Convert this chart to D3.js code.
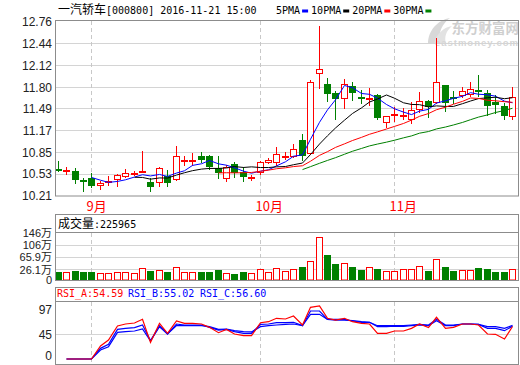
<!DOCTYPE html>
<html><head><meta charset="utf-8">
<script src="https://cdn.jsdelivr.net/npm/d3@7"></script>
<style>
body{margin:0;background:#fff;}
svg{display:block;}
.mono{font-family:"DejaVu Sans Mono","Liberation Mono",monospace;font-size:10px;}
.cjk{font-family:"Noto Sans CJK SC",sans-serif;font-size:12px;}
.ax text{font-family:"Liberation Sans",Arial,sans-serif;font-size:12px;fill:#222;}
.axv text{font-family:"Liberation Sans","Noto Sans CJK SC",sans-serif;font-size:11px;fill:#222;}
</style></head><body>
<svg id="c" width="520" height="365"></svg>
<script>
// ---------------- data ----------------
const opens  = [10.61,10.58,10.58,10.445,10.475,10.368,10.42,10.455,10.50,10.53,10.565,10.416,10.416,10.504,10.455,10.73,10.72,10.80,10.79,10.615,10.47,10.675,10.565,10.475,10.56,10.70,10.71,10.78,10.80,11.03,10.835,12.014,11.845,11.72,11.64,11.82,11.655,11.63,11.69,11.29,11.40,11.39,11.337,11.48,11.605,11.585,11.825,11.65,11.69,11.70,11.765,11.713,11.585,11.527,11.38];
const highs  = [10.72,10.64,10.62,10.48,10.55,10.426,10.50,10.535,10.606,10.57,10.87,10.48,10.64,10.59,10.947,10.79,10.845,10.855,10.81,10.79,10.66,10.71,10.64,10.51,10.715,10.76,10.93,10.85,10.97,11.11,11.905,12.70,11.93,11.745,11.92,11.87,11.76,11.79,11.70,11.38,11.51,11.49,11.585,11.736,11.615,12.52,11.83,11.75,11.81,11.875,11.98,11.76,11.69,11.57,11.81];
const lows   = [10.57,10.53,10.405,10.29,10.34,10.31,10.37,10.355,10.49,10.52,10.56,10.29,10.35,10.35,10.45,10.665,10.66,10.70,10.60,10.47,10.435,10.49,10.435,10.44,10.53,10.69,10.67,10.75,10.785,10.74,10.83,11.786,11.605,11.335,11.494,11.615,11.57,11.54,11.34,11.22,11.30,11.33,11.275,11.44,11.36,11.575,11.445,11.575,11.655,11.665,11.665,11.395,11.43,11.34,11.33];
const closes = [10.60,10.59,10.445,10.42,10.35,10.40,10.43,10.514,10.543,10.55,10.57,10.34,10.62,10.40,10.797,10.74,10.73,10.74,10.64,10.55,10.64,10.544,10.49,10.49,10.70,10.74,10.83,10.79,10.895,10.79,11.88,12.064,11.70,11.63,11.845,11.72,11.645,11.64,11.35,11.38,11.41,11.40,11.46,11.60,11.51,11.87,11.567,11.64,11.75,11.775,11.755,11.527,11.54,11.385,11.655];
// volume in 万手
const volumes = [20.2,20.2,22.7,20.2,20.2,16.3,16.3,19.5,19.5,16.3,29.3,22.7,24.4,20.2,32.6,20.2,20.2,20.2,20.2,24.4,17.8,15.4,20.2,17.8,26.1,19.5,29.3,22.0,26.1,33.6,53.0,129.8,72.4,43.3,45.5,33.6,24.4,32.6,27.1,22.0,22.0,26.1,26.1,36.8,22.0,58.5,33.6,22.0,24.4,24.4,30.3,27.1,20.2,20.2,26.1];
const ma5  = [null,null,null,null,10.481,10.441,10.409,10.423,10.447,10.487,10.521,10.503,10.525,10.496,10.545,10.579,10.657,10.681,10.729,10.680,10.660,10.623,10.573,10.543,10.573,10.593,10.650,10.710,10.791,10.811,11.039,11.287,11.469,11.616,11.825,11.793,11.708,11.696,11.640,11.547,11.485,11.436,11.400,11.450,11.476,11.568,11.601,11.637,11.667,11.720,11.697,11.689,11.669,11.596,11.572];
const ma10 = [null,null,null,null,null,null,null,null,null,10.484,10.481,10.456,10.474,10.472,10.516,10.550,10.580,10.603,10.613,10.613,10.620,10.640,10.627,10.636,10.626,10.626,10.636,10.641,10.667,10.692,10.816,10.969,11.090,11.204,11.318,11.416,11.498,11.583,11.628,11.686,11.639,11.572,11.548,11.545,11.512,11.527,11.519,11.519,11.559,11.598,11.633,11.645,11.653,11.632,11.646];
const ma20 = [null,null,null,null,null,null,null,null,null,null,null,null,null,null,null,null,null,null,null,10.548,10.550,10.548,10.550,10.554,10.571,10.588,10.608,10.622,10.640,10.652,10.718,10.804,10.858,10.920,10.972,11.021,11.067,11.112,11.147,11.189,11.227,11.270,11.319,11.374,11.415,11.471,11.508,11.551,11.593,11.642,11.636,11.609,11.601,11.588,11.579];
const ma30 = [null,null,null,null,null,null,null,null,null,null,null,null,null,null,null,null,null,null,null,null,null,null,null,null,null,null,null,null,null,10.596,10.639,10.688,10.730,10.770,10.820,10.864,10.905,10.942,10.969,10.997,11.025,11.060,11.088,11.128,11.152,11.190,11.218,11.248,11.285,11.325,11.363,11.395,11.430,11.460,11.492];
const rsiA = [null,0,0,0,0,21.8,31.9,55.5,58.8,60.5,66.7,28,60,43.2,63.9,60,60,58.8,53.2,44.2,49.8,42,39.2,39.2,61,62.7,68.4,67.2,72.3,57.1,86.9,89.1,68.4,65.5,68.4,62.7,60,58.8,43.2,43.2,47.1,47.1,51.5,58.8,52.7,70.1,51.5,53.2,58.8,58.8,57.1,42,41.5,33.6,54.59];
const rsiB = [null,0,0,0,0,17.9,24.6,49.8,51.5,52.7,57.1,31,56,42,58.8,57.1,57.1,57.1,53.2,48.7,49.8,45.9,43.2,43.2,58.2,58.8,61,61,61.7,56,80.7,80.7,66.7,66.7,66.7,63.9,61.7,61.7,56,56,56,56,57.1,58.2,57.1,66.7,57.1,57.1,58.8,58.8,58.2,51.5,51.5,47.6,55.02];
const rsiC = [null,0,0,0,0,15.1,20.7,44.8,45.9,47.1,50.4,30.3,54.3,42,56,56,56,56,54.3,49.8,50.4,47.6,45.9,45.5,54.3,56,57.1,58.2,58.8,56,75.1,75.1,66.7,65.5,65.5,64.4,62.7,61.7,54.3,54.3,55,55,56,57.1,56,64.4,56,56,58.8,58.8,58.2,54.3,54.3,51.5,56.60];
const priceTicks = [10.21,10.53,10.85,11.17,11.49,11.80,12.12,12.44,12.76];
const volTicks = [0,26.1,65.9,106,146];
const volTickLabels = ["0","26.1万","65.9万","106万","146万"];
const rsiTicks = [0,45,97];
const monthIdx = [4,24,40];
const monthLabels = ["9月","10月","11月"];
const maNames = ["5PMA","10PMA","20PMA","30PMA"];
const maColors = ["#0000ff","#000000","#ff0000","#008000"];
const titleCjk = "一汽轿车";
const titleAscii = "[000800] 2016-11-21 15:00";
const volLabel = "成交量";
const volValueText = ":225965";
const rsiNames = ["RSI_A:54.59","RSI_B:55.02","RSI_C:56.60"];
const rsiColors = ["#ff0000","#0000ff","#0000ff"];

// ---------------- layout ----------------
const svg = d3.select("#c");
const L = 55, R = 519;
const RED = "#ff0000", GREEN = "#008000", GRID = "#d4d4d4", BORDER = "#8c8c8c";

const idx = closes.map((_, i) => i);
const x = d3.scaleBand().domain(idx).range([54.1, 516.7]);
const cx = i => Math.floor(x(i) + x.bandwidth() / 2) + 0.5;

const y = d3.scaleLinear().domain([10.21, 12.76]).range([196, 21.5]);
const yv = d3.scaleLinear().domain([0, 26.1, 146]).range([280, 269.3, 232.3]);
const yr = d3.scaleLinear().domain([0, 100]).range([359, 299.5]);
const yrAxis = d3.scaleLinear().domain([0, 97]).range([355.7, 309.3]);

// watermark
const wm = svg.append("g");
wm.append("path").attr("d","M428,44 C428,30 438,20 450,18 C442,24 438,32 440,44 Z").attr("fill","#d8d8d8");
wm.append("path").attr("d","M434,44 C436,34 444,27 452,26 C446,31 444,37 446,44 Z").attr("fill","#e2e2e2");
wm.append("text").attr("x",519).attr("y",33).attr("text-anchor","end")
  .attr("font-family","Noto Sans CJK SC").attr("font-weight","bold").attr("font-size",13.5)
  .attr("fill","#cfcfcf").text("东方财富网");
wm.append("text").attr("x",519).attr("y",46).attr("text-anchor","end")
  .attr("font-family","Liberation Sans").attr("font-weight","bold").attr("font-size",9.5)
  .attr("letter-spacing","1").attr("fill","#d6d6d6").text("eastmoney.com");

// ---------- main panel ----------
const gMain = svg.append("g");
gMain.selectAll("line.hg").data(priceTicks.slice(1, -1)).join("line")
  .attr("x1", L).attr("x2", R)
  .attr("y1", d => Math.round(y(d)) + 0.5).attr("y2", d => Math.round(y(d)) + 0.5)
  .attr("stroke", GRID);
const vlines = (g, top, bot) => g.selectAll("line.vg").data(monthIdx).join("line")
  .attr("x1", d => cx(d)).attr("x2", d => cx(d)).attr("y1", top).attr("y2", bot)
  .attr("stroke", "#c8c8c8").attr("stroke-dasharray", "4,3");
vlines(gMain, 21, 196);

const yAxis = d3.axisLeft(y).tickValues(priceTicks).tickFormat(d3.format(".2f")).tickSize(0).tickPadding(3);
svg.append("g").attr("class","ax").attr("transform",`translate(${L},0)`).call(yAxis)
  .call(g => g.select(".domain").remove());

// candles
const gC = svg.append("g");
idx.forEach(i => {
  const up = closes[i] >= opens[i];
  const col = up ? RED : GREEN;
  const px = cx(i);
  const top = Math.round(y(Math.max(opens[i], closes[i])));
  const bot = Math.round(y(Math.min(opens[i], closes[i])));
  gC.append("line").attr("x1", px).attr("x2", px)
    .attr("y1", Math.round(y(highs[i]))).attr("y2", Math.round(y(lows[i])) + 1)
    .attr("stroke", col);
  if (up) {
    gC.append("rect").attr("x", px - 3).attr("y", top + 0.5)
      .attr("width", 6).attr("height", Math.max(bot - top, 1))
      .attr("fill", "#fff").attr("stroke", col);
  } else {
    gC.append("rect").attr("x", px - 3.5).attr("y", top)
      .attr("width", 7).attr("height", Math.max(bot - top, 2))
      .attr("fill", col);
  }
});

// moving averages
[ma5, ma10, ma20, ma30].forEach((arr, k) => {
  const line = d3.line().defined(d => d != null).x((d, i) => cx(i)).y(d => y(d));
  svg.append("path").datum(arr).attr("d", line)
    .attr("fill","none").attr("stroke", maColors[k]).attr("stroke-width", 1);
});

svg.append("rect").attr("x", L + 0.5).attr("y", 20.5).attr("width", R - L - 1).attr("height", 175.5)
  .attr("fill","none").attr("stroke", BORDER);

// title + legend
const title = svg.append("text").attr("x", 58).attr("y", 14);
title.append("tspan").attr("class","cjk").text(titleCjk);
title.append("tspan").attr("class","mono").attr("font-size", 10.5).text(titleAscii);
let lx = 276;
maNames.forEach((n, k) => {
  const t = svg.append("text").attr("class","mono").attr("font-size", 10.5).attr("x", lx).attr("y", 14).text(n);
  const w = t.node().getComputedTextLength();
  svg.append("rect").attr("x", lx + w + 2).attr("y", 9.5).attr("width", 6).attr("height", 3).attr("fill", maColors[k]);
  lx += w + 2 + 6 + 3;
});

// month labels
svg.selectAll("text.mon").data(monthIdx).join("text")
  .attr("x", d => cx(d) - 5).attr("y", 211)
  .attr("font-family","Noto Sans CJK SC").attr("font-size", 13).attr("fill", RED)
  .text((d, i) => monthLabels[i]);

// ---------- volume panel ----------
const gV = svg.append("g");
gV.selectAll("line.hg").data(volTicks.slice(1, -1)).join("line")
  .attr("x1", L).attr("x2", R)
  .attr("y1", d => Math.round(yv(d)) + 0.5).attr("y2", d => Math.round(yv(d)) + 0.5)
  .attr("stroke", GRID);
vlines(gV, 233, 280);
idx.forEach(i => {
  const up = closes[i] >= opens[i];
  const px = cx(i);
  const t = Math.round(yv(volumes[i]));
  if (up) {
    gV.append("rect").attr("x", px - 3).attr("y", t + 0.5).attr("width", 6).attr("height", 280 - t - 0.5)
      .attr("fill","#fff").attr("stroke", RED);
  } else {
    gV.append("rect").attr("x", px - 3.5).attr("y", t).attr("width", 7).attr("height", 281 - t)
      .attr("fill", GREEN);
  }
});
const vAxis = d3.axisLeft(yv).tickValues(volTicks).tickFormat((d, i) => volTickLabels[i]).tickSize(0).tickPadding(3);
svg.append("g").attr("class","axv").attr("transform",`translate(${L},0)`).call(vAxis)
  .call(g => g.select(".domain").remove())
  .call(g => g.selectAll(".tick text").attr("dy", "0.34em"));
svg.append("rect").attr("x", L + 0.5).attr("y", 214.5).attr("width", R - L - 1).attr("height", 66)
  .attr("fill","none").attr("stroke", BORDER);
svg.append("line").attr("x1", L).attr("x2", R).attr("y1", 232.5).attr("y2", 232.5).attr("stroke", BORDER);
const vt = svg.append("text").attr("x", 58).attr("y", 228);
vt.append("tspan").attr("class","cjk").text(volLabel);
vt.append("tspan").attr("class","mono").attr("font-size", 10.5).text(volValueText);

// ---------- RSI panel ----------
const gR = svg.append("g");
gR.append("line").attr("x1", L).attr("x2", R).attr("y1", Math.round(yrAxis(45)) + 0.5).attr("y2", Math.round(yrAxis(45)) + 0.5).attr("stroke", GRID);
vlines(gR, 302, 364);
[rsiC, rsiB, rsiA].forEach((arr, k) => {
  const line = d3.line().defined(d => d != null).x((d, i) => cx(i)).y(d => yr(d));
  svg.append("path").datum(arr).attr("d", line).attr("fill","none")
    .attr("stroke", k === 2 ? RED : "#0000ff").attr("stroke-width", 1.2);
});
const rAxis = d3.axisLeft(yrAxis).tickValues(rsiTicks).tickSize(0).tickPadding(3);
svg.append("g").attr("class","ax").attr("transform",`translate(${L},0)`).call(rAxis)
  .call(g => g.select(".domain").remove());
svg.append("rect").attr("x", L + 0.5).attr("y", 287.5).attr("width", R - L - 1).attr("height", 77)
  .attr("fill","none").attr("stroke", BORDER);
svg.append("line").attr("x1", L).attr("x2", R).attr("y1", 301.5).attr("y2", 301.5).attr("stroke", BORDER);
const rxs = [57, 128, 200];
rsiNames.forEach((n, k) => {
  svg.append("text").attr("class","mono").attr("font-size", 10.5).attr("x", rxs[k]).attr("y", 297)
    .attr("fill", rsiColors[k]).text(n);
});
</script></body></html>
